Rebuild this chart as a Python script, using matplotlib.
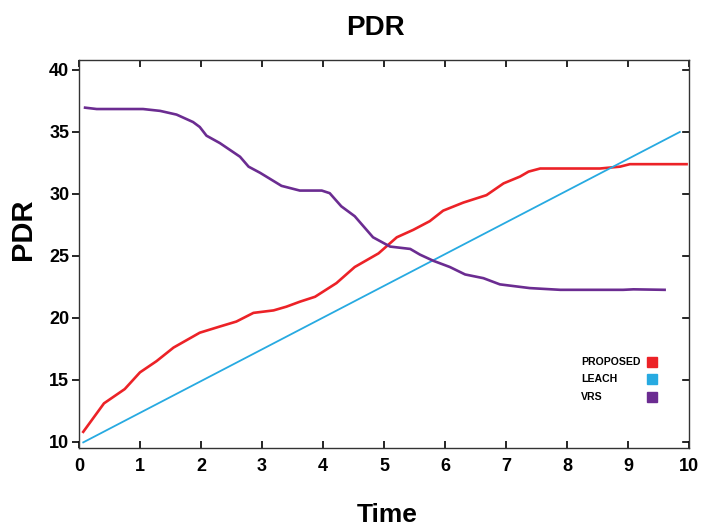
import matplotlib
matplotlib.use("Agg")
import matplotlib.pyplot as plt

# values
prop_x = [0.07, 0.41, 0.75, 1.0, 1.27, 1.55, 1.98, 2.31, 2.58, 2.86, 3.19, 3.4, 3.62,
          3.87, 4.22, 4.52, 4.91, 5.21, 5.48, 5.75, 5.97, 6.3, 6.68, 6.96, 7.23, 7.37,
          7.56, 8.54, 8.87, 9.03, 9.96]
prop_y = [10.8, 13.1, 14.25, 15.6, 16.5, 17.6, 18.8, 19.3, 19.7, 20.4, 20.6, 20.9, 21.3,
          21.7, 22.8, 24.1, 25.2, 26.5, 27.1, 27.8, 28.65, 29.3, 29.9, 30.85, 31.4, 31.8,
          32.05, 32.05, 32.2, 32.4, 32.4]

leach_x = [0.07, 9.85]
leach_y = [9.95, 35.0]

vrs_x = [0.1, 0.29, 1.05, 1.33, 1.6, 1.87, 1.98, 2.09, 2.31, 2.64, 2.78, 2.97, 3.32,
         3.62, 3.98, 4.11, 4.3, 4.52, 4.82, 5.1, 5.43, 5.59, 5.81, 6.08, 6.33, 6.63,
         6.9, 7.39, 7.89, 8.92, 9.09, 9.6]
vrs_y = [36.96, 36.85, 36.85, 36.7, 36.4, 35.8, 35.4, 34.7, 34.1, 33.0, 32.2, 31.7, 30.65,
         30.27, 30.27, 30.06, 29.0, 28.2, 26.5, 25.75, 25.56, 25.1, 24.6, 24.1, 23.5, 23.2,
         22.7, 22.4, 22.26, 22.26, 22.3, 22.26]

names = ["PROPOSED", "LEACH", "VRS"]
colors = ["#ec2227", "#27aae1", "#6b2c91"]

font = ["Liberation Sans"]

fig = plt.figure(figsize=(7.02, 5.27), dpi=100)
ax = fig.add_axes([0.1125, 0.15, 0.869, 0.736])

ax.plot(prop_x, prop_y, color=colors[0], lw=1.9)
ax.plot(leach_x, leach_y, color=colors[1], lw=1.3)
ax.plot(vrs_x, vrs_y, color=colors[2], lw=1.9)

ax.set_xlim(0, 10)
ax.set_ylim(9.5, 40.8)
ax.set_xticks(range(0, 11))
ax.set_yticks(range(10, 41, 5))

for s in ax.spines.values():
    s.set_color("#333333")
    s.set_linewidth(1.0)

ax.tick_params(axis="x", direction="in", top=True, length=5, width=1.2, pad=7)
ax.tick_params(axis="y", direction="out", right=False, length=5, width=1.2, pad=2)
for lab in ax.get_xticklabels() + ax.get_yticklabels():
    lab.set_fontfamily(font)
    lab.set_fontweight("bold")
    lab.set_fontsize(13)
# right side ticks point inward
for y in range(10, 41, 5):
    ax.plot([9.9, 10], [y, y], color="black", lw=1.2, clip_on=False)

fig.text(375 / 702, 1 - 28 / 527, "PDR", ha="center", va="center",
         fontsize=20, fontweight="bold", family=font)
fig.text(23 / 702, 1 - 229 / 527, "PDR", ha="center", va="center", rotation=90,
         fontsize=21, fontweight="bold", family=font)
fig.text(387 / 702, 1 - 515 / 527, "Time", ha="center", va="center",
         fontsize=19, fontweight="bold", family=font)

# legend: labels left aligned, colour squares in one column on the right
text_x = (581 - 79) / 610
mark_x = (652 - 79) / 610
for i, (name, c) in enumerate(zip(names, colors)):
    yy = (448 - (362 + 17.5 * i)) / 388
    ax.text(text_x, yy, name, transform=ax.transAxes, ha="left", va="center",
            fontsize=7.6, fontweight="bold", family=font)
    ax.plot([mark_x], [yy], transform=ax.transAxes, ls="none", marker="s",
            markersize=7, color=c, clip_on=False)

fig.savefig("out.png", dpi=100)
